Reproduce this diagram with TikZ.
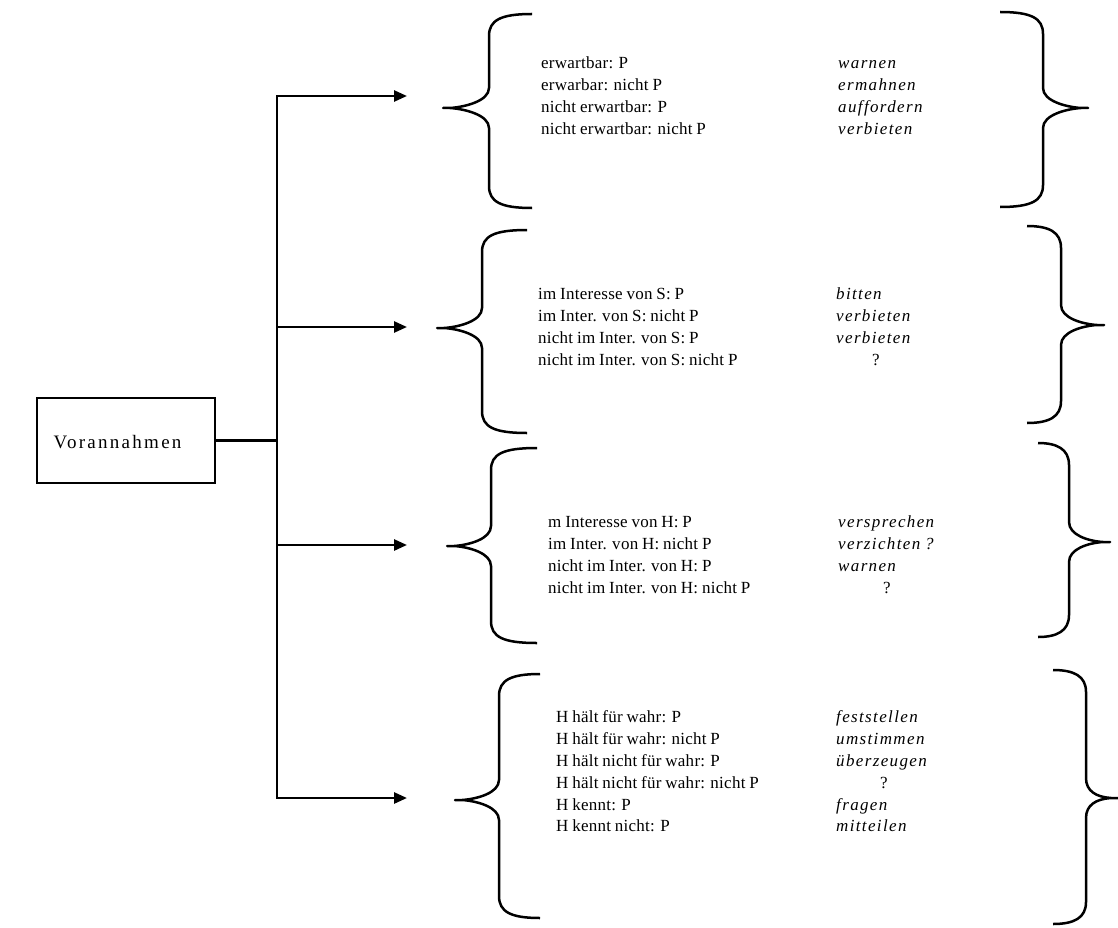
\documentclass[tikz,border=0pt]{standalone}
\usepackage{fontspec}
\setmainfont{Liberation Serif}[LetterSpace=1.5,WordSpace=0.85,ItalicFeatures={LetterSpace=8}]
\usetikzlibrary{arrows.meta}
\tikzset{
  conn/.style={line width=2.6pt},
  arr/.style={conn,-{Triangle[length=13pt,width=11pt]}},
  brace/.style={line width=2.5pt,line join=round},
  box/.style={draw,line width=2.6pt,minimum width=178pt,minimum height=85pt,inner sep=0pt},
  block/.style={inner sep=0pt,anchor=west},
}
% left brace: end x, spine x, tip x, top y, tip y, bottom y
\newcommand\LBrc[6]{%
 \draw[brace] (#1,#4) .. controls (#2+12,#4) and (#2,#4+6) .. (#2,#4+22)
   -- (#2,#5-20) .. controls (#2,#5-7) and (#3+22,#5-1) .. (#3+7,#5) -- (#3,#5) -- (#3+7,#5)
   .. controls (#3+22,#5+1) and (#2,#5+7) .. (#2,#5+20)
   -- (#2,#6-22) .. controls (#2,#6-6) and (#2+12,#6) .. (#1,#6);}
% right brace: end x, spine x, tip x, top y, tip y, bottom y
\newcommand\RBrc[6]{%
 \draw[brace] (#1,#4) .. controls (#2-12,#4) and (#2,#4+6) .. (#2,#4+22)
   -- (#2,#5-20) .. controls (#2,#5-7) and (#3-22,#5-1) .. (#3-7,#5) -- (#3,#5) -- (#3-7,#5)
   .. controls (#3-22,#5+1) and (#2,#5+7) .. (#2,#5+20)
   -- (#2,#6-22) .. controls (#2,#6-6) and (#2-12,#6) .. (#1,#6);}
\begin{document}
\begin{tikzpicture}[x=1pt,y=-1pt,font=\fontsize{17}{21.8}\selectfont]
\useasboundingbox[fill=white] (0,0) rectangle (1118,928);

\node[box] (v) at (126,440.5) {};
\node[inner sep=0pt] (vt) at (117.5,442) {\fontsize{19}{22}\selectfont\addfontfeature{LetterSpace=12}Vorannahmen};

\coordinate (j1) at (277,96);
\coordinate (j2) at (277,327);
\coordinate (jm) at (277,440.5);
\coordinate (j3) at (277,545);
\coordinate (j4) at (277,798);
\coordinate (a1) at (407,96);
\coordinate (a2) at (407,327);
\coordinate (a3) at (407,545);
\coordinate (a4) at (407,798);

\draw[conn] (v.east) -- (jm);
\draw[conn,line cap=rect] (j1) -- (j4);
\draw[arr] (j1) -- (a1);
\draw[arr] (j2) -- (a2);
\draw[arr] (j3) -- (a3);
\draw[arr] (j4) -- (a4);

% braces
\LBrc{532}{489}{443}{14}{108}{208}
\LBrc{527}{482}{437}{230}{328}{433}
\LBrc{537}{491}{447}{448}{546}{643}
\LBrc{540}{499}{455}{674}{800}{918}
\RBrc{1000}{1043}{1088}{12}{108}{207}
\RBrc{1027}{1061}{1104}{226}{325}{423}
\RBrc{1038}{1069}{1110}{443}{542}{637}
\RBrc{1053}{1086}{1118}{670}{798}{924}

% text blocks
\node[block] (t1) at (541,97) {\begin{tabular}{@{}p{297pt}@{}l@{}}
erwartbar: P & \textit{warnen}\\
erwarbar: nicht P & \textit{ermahnen}\\
nicht erwartbar: P & \textit{auffordern}\\
nicht erwartbar: nicht P & \textit{verbieten}
\end{tabular}};

\node[block] (t2) at (538,328) {\begin{tabular}{@{}p{298pt}@{}l@{}}
im Interesse von S: P & \textit{bitten}\\
im Inter. von S: nicht P & \textit{verbieten}\\
nicht im Inter. von S: P & \textit{verbieten}\\
nicht im Inter. von S: nicht P & \hspace{36pt}?
\end{tabular}};

\node[block] (t3) at (548,556) {\begin{tabular}{@{}p{290pt}@{}l@{}}
m Interesse von H: P & \textit{versprechen}\\
im Inter. von H: nicht P & \textit{verzichten ?}\\
nicht im Inter. von H: P & \textit{warnen}\\
nicht im Inter. von H: nicht P & \hspace{45pt}?
\end{tabular}};

\node[block] (t4) at (556,773) {\begin{tabular}{@{}p{280pt}@{}l@{}}
H hält für wahr: P & \textit{feststellen}\\
H hält für wahr: nicht P & \textit{umstimmen}\\
H hält nicht für wahr: P & \textit{überzeugen}\\
H hält nicht für wahr: nicht P & \hspace{44pt}?\\
H kennt: P & \textit{fragen}\\
H kennt nicht: P & \textit{mitteilen}
\end{tabular}};
\end{tikzpicture}
\end{document}
